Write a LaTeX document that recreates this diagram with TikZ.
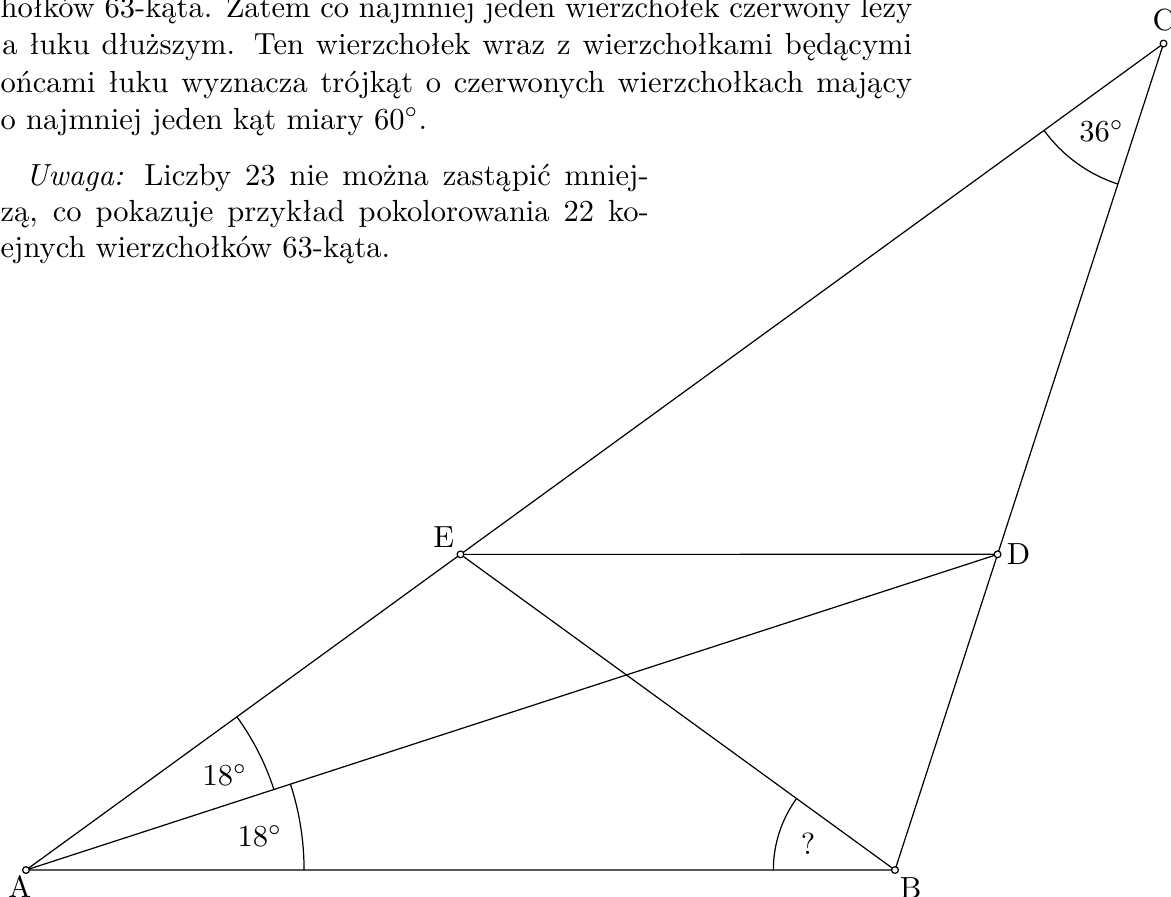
\documentclass[tikz,border=0pt]{standalone}
\usepackage{tikz}
\usetikzlibrary{calc, angles, positioning}

\begin{document}
\begin{tikzpicture}[
    vertex/.style={circle, draw, fill=white, inner sep=0pt, minimum size=2.2pt},
    ptlabel/.style={inner sep=0pt},
    textline/.style={inner sep=0pt, anchor=base west},
]
    \useasboundingbox (-0.299,-0.299) rectangle (13.176,10.012);
    \clip (-0.299,-0.299) rectangle (13.176,10.012);

    % text of the page beside the figure
    \node[textline] (t1) at (-0.299,9.816) {\makebox[10.49cm][s]{hołków 63-kąta. Zatem co najmniej jeden wierzchołek czerwony leży}};
    \node[textline] (t2) at (-0.280,9.384) {\makebox[10.47cm][s]{a łuku dłuższym. Ten wierzchołek wraz z wierzchołkami będącymi}};
    \node[textline] (t3) at (-0.299,8.953) {\makebox[10.49cm][s]{ońcami łuku wyznacza trójkąt o czerwonych wierzchołkach mający}};
    \node[textline] (t4) at (-0.299,8.527) {o najmniej jeden kąt miary $60^\circ$.};
    \node[textline] (t5) at (-0.011,7.883) {\makebox[7.17cm][s]{\textit{Uwaga:} Liczby 23 nie można zastąpić mniej-}};
    \node[textline] (t6) at (-0.299,7.468) {\makebox[7.46cm][s]{zą, co pokazuje przykład pokolorowania 22 ko-}};
    \node[textline] (t7) at (-0.299,7.054) {ejnych wierzchołków 63-kąta.};

    % triangle ABC with bisector AD and ED parallel to AB
    \coordinate (A) at (0,0);
    \coordinate (B) at (10,0);
    \coordinate (C) at ($(B)+(72:10)$);
    \coordinate (D) at ($(B)+(72:3.8197)$);
    \coordinate (E) at ($(A)+(36:6.1803)$);

    \draw (A) -- (B) -- (C) -- cycle;
    \draw (A) -- (D);
    \draw (E) -- (D);
    \draw (E) -- (B);

    % angle marks
    \pic[draw, angle radius=3cm] {angle=D--A--C};
    \pic[draw, angle radius=3.2cm] {angle=B--A--D};
    \pic[draw, angle radius=1.7cm] {angle=A--C--B};
    \pic[draw, angle radius=1.4cm] {angle=E--B--A};

    \node (a1) at ($(A)+(25.5:2.537)$) {$18^\circ$};
    \node (a2) at ($(A)+(8.2:2.72)$) {$18^\circ$};
    \node (a3) at ($(C)+(-0.713,-1.008)$) {$36^\circ$};
    \node (a4) at ($(B)+(-1.0,0.305)$) {?};

    % vertices
    \foreach \p in {A,B,C,D,E}
        \node[vertex] (v\p) at (\p) {};

    \node[ptlabel, anchor=north] (lA) at ($(A)+(-0.07,-0.06)$) {A};
    \node[ptlabel, anchor=north] (lB) at ($(B)+(0.18,-0.08)$) {B};
    \node[ptlabel, anchor=south] (lC) at ($(C)+(0,0.14)$) {C};
    \node[ptlabel, anchor=west] (lD) at ($(D)+(0.1,0)$) {D};
    \node[ptlabel, anchor=south east] (lE) at ($(E)+(-0.065,0.077)$) {E};
\end{tikzpicture}
\end{document}
